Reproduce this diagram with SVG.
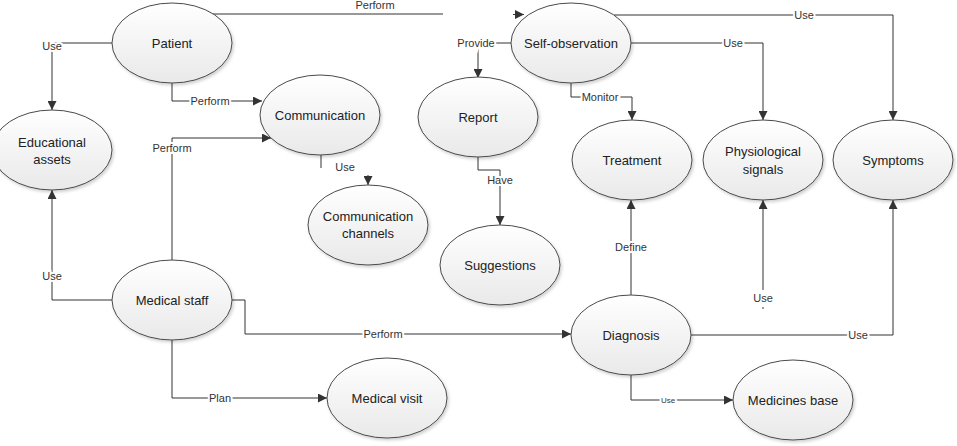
<svg xmlns="http://www.w3.org/2000/svg" width="957" height="446" viewBox="0 0 957 446">
<style>
.node ellipse{fill:url(#g);stroke:#4a4a4a;stroke-width:1;filter:url(#sh)}
.node text{font-family:"Liberation Sans",Arial,sans-serif;font-size:13px;fill:#222;text-anchor:middle;dominant-baseline:central}
.edges path,.edges line{fill:none;stroke:#333;stroke-width:1}
.arr{marker-end:url(#ah)}
.lbl{font-family:"Liberation Sans",Arial,sans-serif;font-size:11px;fill:#333;text-anchor:middle;dominant-baseline:central;stroke:#fff;stroke-width:4;paint-order:stroke}
</style>
<defs>
<linearGradient id="g" x1="0" y1="0" x2="0" y2="1">
<stop offset="0" stop-color="#ffffff"/>
<stop offset="1" stop-color="#e9e9e9"/>
</linearGradient>
<filter id="sh" x="-10%" y="-10%" width="125%" height="130%">
<feDropShadow dx="1.5" dy="2" stdDeviation="1.5" flood-color="#000" flood-opacity="0.18"/>
</filter>
<marker id="ah" viewBox="0 0 10 10" refX="10" refY="5" markerWidth="9" markerHeight="9" markerUnits="userSpaceOnUse" orient="auto">
<path d="M0,0 L10,5 L0,10 Z" fill="#333"/>
</marker>
</defs>
<rect width="957" height="446" fill="#fff"/>
<g class="edges">
<!-- Patient -> Educational assets -->
<path class="arr" d="M112,43 H52 V110"/>
<!-- Patient -> Communication -->
<path class="arr" d="M172,83 V101 H262"/>
<!-- Patient -> Self-observation (Perform) -->
<path d="M213,14 H443"/>
<path class="arr" d="M513,14.5 H524"/>
<!-- Medical staff -> Communication -->
<path class="arr" d="M172,260 V138 H271"/>
<!-- Medical staff -> Educational assets -->
<path class="arr" d="M113,300 H52 V190"/>
<!-- Medical staff -> Diagnosis -->
<path class="arr" d="M232,300 H245 V334 H571"/>
<!-- Medical staff -> Medical visit -->
<path class="arr" d="M172,340 V398 H327"/>
<!-- Communication -> Communication channels -->
<path d="M321,155 V168"/>
<path class="arr" d="M368,175 V185"/>
<!-- Self-observation -> Report -->
<path class="arr" d="M511,43 H478 V78"/>
<!-- Self-observation -> Treatment -->
<path class="arr" d="M571,83 V97 H632 V120"/>
<!-- Self-observation -> Physiological signals -->
<path class="arr" d="M631,43 H763 V120"/>
<!-- Self-observation -> Symptoms -->
<path class="arr" d="M614,15 H893 V120"/>
<!-- Report -> Suggestions -->
<path class="arr" d="M478,157 V170 H500 V225"/>
<!-- Diagnosis -> Treatment -->
<path class="arr" d="M631,295 V200"/>
<!-- ? -> Physiological signals -->
<path class="arr" d="M763,290 V200"/>
<path d="M763,307 V309"/>
<!-- Diagnosis -> Symptoms -->
<path class="arr" d="M691,335 H893 V200"/>
<!-- Diagnosis -> Medicines base -->
<path class="arr" d="M631,375 V400 H733"/>
<!-- labels -->
<text class="lbl" x="52" y="46">Use</text>
<text class="lbl" x="210" y="101">Perform</text>
<text class="lbl" x="375" y="5">Perform</text>
<text class="lbl" x="172" y="148">Perform</text>
<text class="lbl" x="52" y="276">Use</text>
<text class="lbl" x="383" y="334">Perform</text>
<text class="lbl" x="220" y="398">Plan</text>
<text class="lbl" x="345" y="167">Use</text>
<text class="lbl" x="476" y="43">Provide</text>
<text class="lbl" x="600" y="97">Monitor</text>
<text class="lbl" x="733" y="43">Use</text>
<text class="lbl" x="804" y="15">Use</text>
<text class="lbl" x="500" y="180">Have</text>
<text class="lbl" x="631" y="247">Define</text>
<text class="lbl" x="763" y="298">Use</text>
<text class="lbl" x="858" y="335">Use</text>
<text class="lbl" x="668" y="400" style="font-size:8px">Use</text>
</g>
<g id="patient" class="node"><ellipse cx="172" cy="43" rx="60" ry="40"/><text x="172" y="43">Patient</text></g>
<g id="educational-assets" class="node"><ellipse cx="52" cy="150" rx="60" ry="40"/><text x="52" y="142">Educational</text><text x="52" y="159">assets</text></g>
<g id="communication" class="node"><ellipse cx="320" cy="115" rx="60" ry="40"/><text x="320" y="115">Communication</text></g>
<g id="communication-channels" class="node"><ellipse cx="368" cy="225" rx="60" ry="40"/><text x="368" y="216">Communication</text><text x="368" y="233">channels</text></g>
<g id="medical-staff" class="node"><ellipse cx="172" cy="300" rx="60" ry="40"/><text x="172" y="300">Medical staff</text></g>
<g id="medical-visit" class="node"><ellipse cx="387" cy="398" rx="60" ry="40"/><text x="387" y="398">Medical visit</text></g>
<g id="report" class="node"><ellipse cx="478" cy="117" rx="60" ry="40"/><text x="478" y="117">Report</text></g>
<g id="suggestions" class="node"><ellipse cx="500" cy="265" rx="60" ry="40"/><text x="500" y="265">Suggestions</text></g>
<g id="self-observation" class="node"><ellipse cx="571" cy="43" rx="60" ry="40"/><text x="571" y="43">Self-observation</text></g>
<g id="treatment" class="node"><ellipse cx="632" cy="160" rx="60" ry="40"/><text x="632" y="160">Treatment</text></g>
<g id="physiological-signals" class="node"><ellipse cx="763" cy="160" rx="60" ry="40"/><text x="763" y="151">Physiological</text><text x="763" y="169">signals</text></g>
<g id="symptoms" class="node"><ellipse cx="893" cy="160" rx="60" ry="40"/><text x="893" y="160">Symptoms</text></g>
<g id="diagnosis" class="node"><ellipse cx="631" cy="335" rx="60" ry="40"/><text x="631" y="335">Diagnosis</text></g>
<g id="medicines-base" class="node"><ellipse cx="793" cy="400" rx="60" ry="40"/><text x="793" y="400">Medicines base</text></g>
</svg>
